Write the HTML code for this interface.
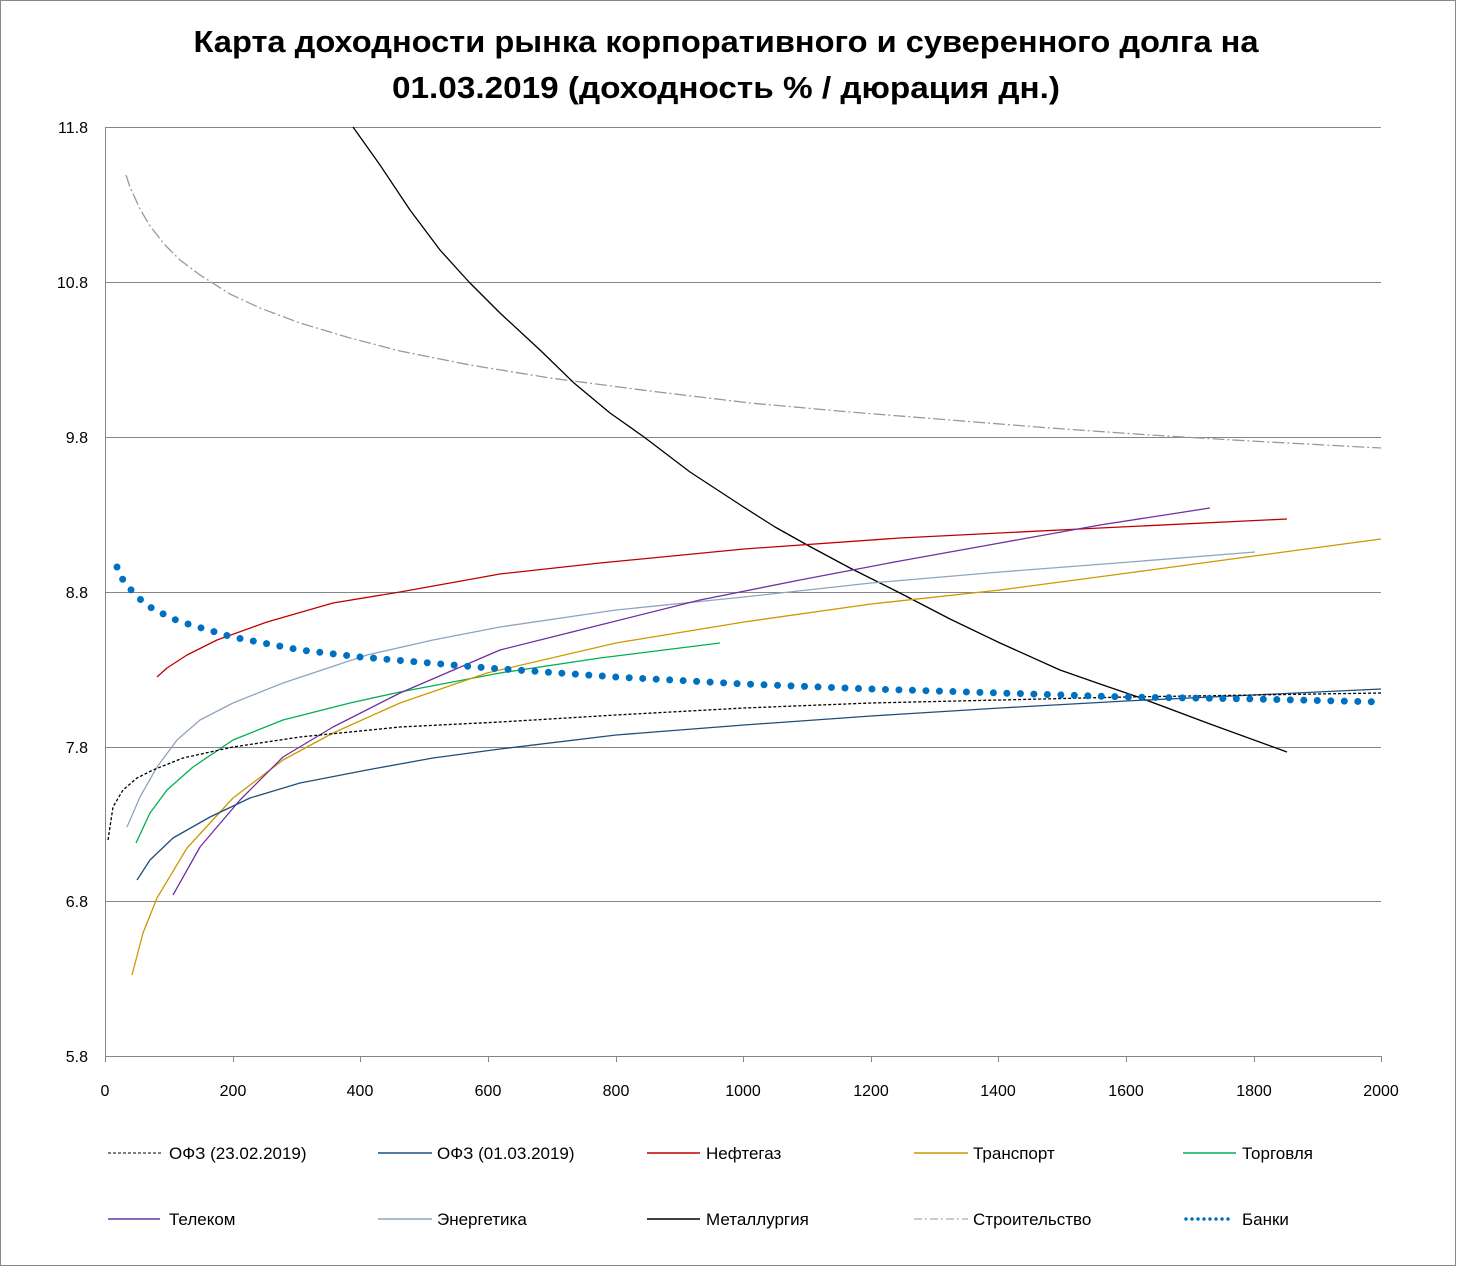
<!DOCTYPE html>
<html><head><meta charset="utf-8"><style>
body{margin:0;background:#fff;}
svg{display:block;font-family:"Liberation Sans",sans-serif;}
</style></head><body>
<svg width="1457" height="1267" viewBox="0 0 1457 1267">
<rect x="0.5" y="0.5" width="1455" height="1265" fill="#fff" stroke="#888"/>
<text x="726" y="52" text-anchor="middle" font-size="31" font-weight="bold" textLength="1065" lengthAdjust="spacingAndGlyphs">Карта доходности рынка корпоративного и суверенного долга на</text>
<text x="726" y="98" text-anchor="middle" font-size="31" font-weight="bold" textLength="668" lengthAdjust="spacingAndGlyphs">01.03.2019 (доходность % / дюрация дн.)</text>
<g stroke="#868686" stroke-width="1">
<line x1="105" y1="127.5" x2="1381" y2="127.5"/>
<line x1="105" y1="282.5" x2="1381" y2="282.5"/>
<line x1="105" y1="437.5" x2="1381" y2="437.5"/>
<line x1="105" y1="592.5" x2="1381" y2="592.5"/>
<line x1="105" y1="747.5" x2="1381" y2="747.5"/>
<line x1="105" y1="901.5" x2="1381" y2="901.5"/>
<line x1="105" y1="1056.5" x2="1381" y2="1056.5"/>
<line x1="105.5" y1="127" x2="105.5" y2="1062"/>
<line x1="233.5" y1="1056" x2="233.5" y2="1062"/><line x1="360.5" y1="1056" x2="360.5" y2="1062"/>
<line x1="488.5" y1="1056" x2="488.5" y2="1062"/><line x1="616.5" y1="1056" x2="616.5" y2="1062"/>
<line x1="743.5" y1="1056" x2="743.5" y2="1062"/><line x1="871.5" y1="1056" x2="871.5" y2="1062"/>
<line x1="998.5" y1="1056" x2="998.5" y2="1062"/><line x1="1126.5" y1="1056" x2="1126.5" y2="1062"/>
<line x1="1254.5" y1="1056" x2="1254.5" y2="1062"/><line x1="1381.5" y1="1056" x2="1381.5" y2="1062"/>
</g>
<g font-size="16" text-anchor="end">
<text x="88" y="133">11.8</text><text x="88" y="288">10.8</text><text x="88" y="443">9.8</text>
<text x="88" y="598">8.8</text><text x="88" y="753">7.8</text><text x="88" y="907">6.8</text><text x="88" y="1062">5.8</text>
</g>
<g font-size="16" text-anchor="middle">
<text x="105" y="1096">0</text><text x="233" y="1096">200</text><text x="360" y="1096">400</text>
<text x="488" y="1096">600</text><text x="616" y="1096">800</text><text x="743" y="1096">1000</text>
<text x="871" y="1096">1200</text><text x="998" y="1096">1400</text><text x="1126" y="1096">1600</text>
<text x="1254" y="1096">1800</text><text x="1381" y="1096">2000</text>
</g>
<g fill="none" stroke-width="1.3" stroke-linejoin="round">
<polyline stroke="#999" stroke-dasharray="12 3 2 3" points="126,175 130,187 140,209 150,226 165,245 180,260 200,275 230,294 260,308 300,323 350,338 400,351 470,365 550,378 650,391 750,403 850,412 950,420 1050,428 1150,435 1250,441 1381,448"/>
<polyline stroke="#000" points="353,127 380,165 410,210 440,250 469,282 500,313 540,350 574,383 610,413 644,437 690,472 742,506 775,527 809,546 850,568 898,592 950,619 1000,643 1060,670 1100,684 1138,697 1210,724 1287,752"/>
<polyline stroke="#C00000" points="157,677 167,668 187,655 217,640 267,622 333,603 400,592 500,574 600,563 744,549 900,538 1100,528 1287,519"/>
<polyline stroke="#8EA5BF" points="127,827 140,797 157,767 177,740 200,720 233,703 283,683 367,655 433,640 500,627 616,610 744,597 871,583 1000,572 1130,562 1255,552"/>
<polyline stroke="#00B050" points="136,843 150,813 167,790 193,767 233,740 283,720 350,703 400,692 500,673 600,658 720,643"/>
<polyline stroke="#CC9900" points="132,975 143,933 157,898 187,848 233,798 283,760 333,733 400,703 487,673 616,643 744,622 871,604 1000,590 1128,573 1254,556 1381,539"/>
<polyline stroke="#7030A0" points="173,895 200,847 240,800 283,757 333,727 400,693 500,650 600,625 700,600 800,580 900,561 1000,543 1100,525 1210,508"/>
<polyline stroke="#1F4E79" points="137,880 150,860 173,838 210,817 250,798 300,783 367,770 433,758 500,749 616,735 744,725 871,716 1000,708 1126,701 1254,695 1381,689"/>
<polyline stroke="#000" stroke-dasharray="3 2" points="108,840 113,807 123,790 137,778 153,770 183,758 233,747 300,737 400,727 500,722 616,715 744,708 871,703 1000,700 1126,697 1254,695 1381,693"/>
<polyline stroke="#0070C0" stroke-width="7" stroke-linecap="round" stroke-dasharray="0 13.5" points="117,567 123,580 132,591 142,601 153,609 178,621 232,637 300,650 360,657 488,668 616,677 744,684 871,689 1000,693 1126,697 1254,699 1381,702"/>
</g>
<g font-size="17">
<line x1="108" y1="1153" x2="163" y2="1153" stroke="#000" stroke-dasharray="3 2"/><text x="169" y="1159">ОФЗ (23.02.2019)</text>
<line x1="378" y1="1153" x2="432" y2="1153" stroke="#1F4E79" stroke-width="1.5"/><text x="437" y="1159">ОФЗ (01.03.2019)</text>
<line x1="647" y1="1153" x2="700" y2="1153" stroke="#C00000" stroke-width="1.5"/><text x="706" y="1159">Нефтегаз</text>
<line x1="914" y1="1153" x2="968" y2="1153" stroke="#CC9900" stroke-width="1.5"/><text x="973" y="1159">Транспорт</text>
<line x1="1183" y1="1153" x2="1236" y2="1153" stroke="#00B050" stroke-width="1.5"/><text x="1242" y="1159">Торговля</text>
<line x1="108" y1="1219" x2="160" y2="1219" stroke="#7030A0" stroke-width="1.5"/><text x="169" y="1225">Телеком</text>
<line x1="378" y1="1219" x2="432" y2="1219" stroke="#8EA5BF" stroke-width="1.5"/><text x="437" y="1225">Энергетика</text>
<line x1="647" y1="1219" x2="700" y2="1219" stroke="#000" stroke-width="1.5"/><text x="706" y="1225">Металлургия</text>
<line x1="914" y1="1219" x2="968" y2="1219" stroke="#999" stroke-dasharray="8 3 2 3"/><text x="973" y="1225">Строительство</text>
<line x1="1186" y1="1219" x2="1234" y2="1219" stroke="#0070C0" stroke-width="3.5" stroke-linecap="round" stroke-dasharray="0 6"/><text x="1242" y="1225">Банки</text>
</g>
</svg>
</body></html>
